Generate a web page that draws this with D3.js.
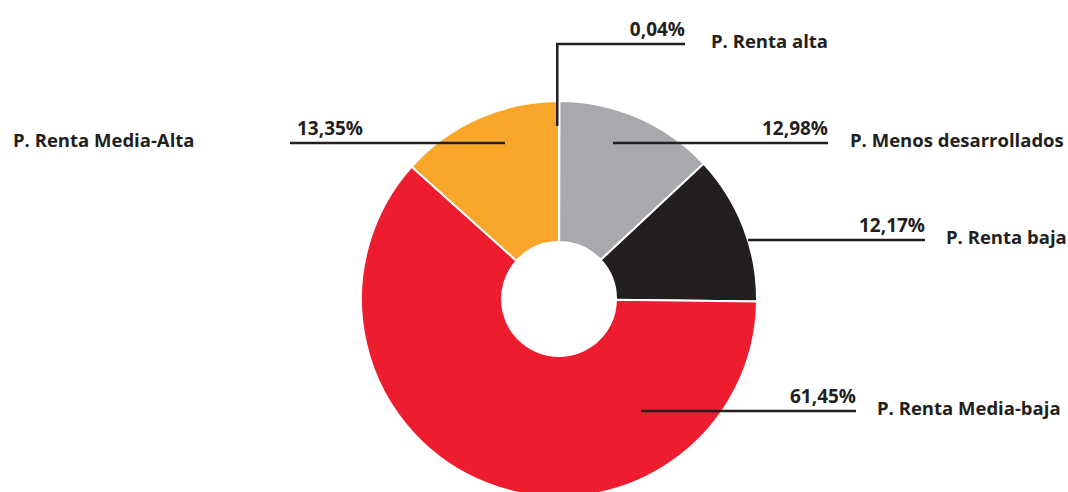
<!DOCTYPE html>
<html>
<head>
<meta charset="utf-8">
<script src="https://cdn.jsdelivr.net/npm/d3@7"></script>
<style>
  html, body { margin: 0; padding: 0; background: #fff; }
  svg { display: block; }
</style>
</head>
<body>
<div id="chart"></div>
<script>
// datos
const categories = ['P. Renta alta', 'P. Menos desarrollados', 'P. Renta baja', 'P. Renta Media-baja', 'P. Renta Media-Alta'];
const values = [0.04, 12.98, 12.17, 61.45, 13.35];
const valueLabels = ['0,04%', '12,98%', '12,17%', '61,45%', '13,35%'];
const colors = ['#a7a9ac', '#a7a9ac', '#231f20', '#ed1c2e', '#f9a72b'];

// layout de etiquetas (líneas guía)
const guides = [
  { y: 44, x0: null, x1: 685, labelX: 711, side: 'right', riser: 126 },
  { y: 143, x0: 613, x1: 828, labelX: 850, side: 'right' },
  { y: 240, x0: 748, x1: 925, labelX: 946, side: 'right' },
  { y: 411, x0: 641, x1: 856, labelX: 877, side: 'right' },
  { y: 143, x0: 505, x1: 290, labelX: 13, side: 'left' }
];

const width = 1068, height = 492;
const cx = 559, cy = 299;
const outerR = 198, innerR = 57;
const ink = '#231f20';

const svg = d3.select('#chart').append('svg')
  .attr('width', width)
  .attr('height', height)
  .attr('viewBox', `0 0 ${width} ${height}`);

const pie = d3.pie().sort(null).value(d => d.value);
const arcs = pie(values.map((v, i) => ({ value: v, i })));
const arc = d3.arc().innerRadius(innerR).outerRadius(outerR);

const g = svg.append('g').attr('transform', `translate(${cx},${cy})`);
g.selectAll('path')
  .data(arcs)
  .join('path')
  .attr('d', arc)
  .attr('fill', d => colors[d.data.i])
  .attr('stroke', '#fff')
  .attr('stroke-width', 2);

// líneas guía
const lines = svg.append('g');
const texts = svg.append('g')
  .style('font-family', '"Open Sans", "Liberation Sans", sans-serif')
  .style('font-weight', 700)
  .attr('fill', ink);

guides.forEach((gd, i) => {
  if (gd.riser) {
    const a = (arcs[i].startAngle + arcs[i].endAngle) / 2;
    const x = cx + Math.sin(a) * outerR - 2;
    lines.append('path')
      .attr('d', `M${x},${gd.riser}V${gd.y}H${gd.x1}`)
      .attr('fill', 'none')
      .attr('stroke', ink)
      .attr('stroke-width', 2.5);
  } else {
    lines.append('line')
      .attr('x1', gd.x0).attr('x2', gd.x1)
      .attr('y1', gd.y).attr('y2', gd.y)
      .attr('stroke', ink)
      .attr('stroke-width', 2.5);
  }
  const right = gd.side === 'right';
  texts.append('text')
    .attr('x', right ? gd.x1 : gd.x1 + 7)
    .attr('y', gd.y - 8)
    .attr('text-anchor', right ? 'end' : 'start')
    .style('font-size', '19px')
    .text(valueLabels[i]);
  texts.append('text')
    .attr('x', gd.labelX)
    .attr('y', gd.y + 4)
    .style('font-size', '18.5px')
    .text(categories[i]);
});
</script>
</body>
</html>
